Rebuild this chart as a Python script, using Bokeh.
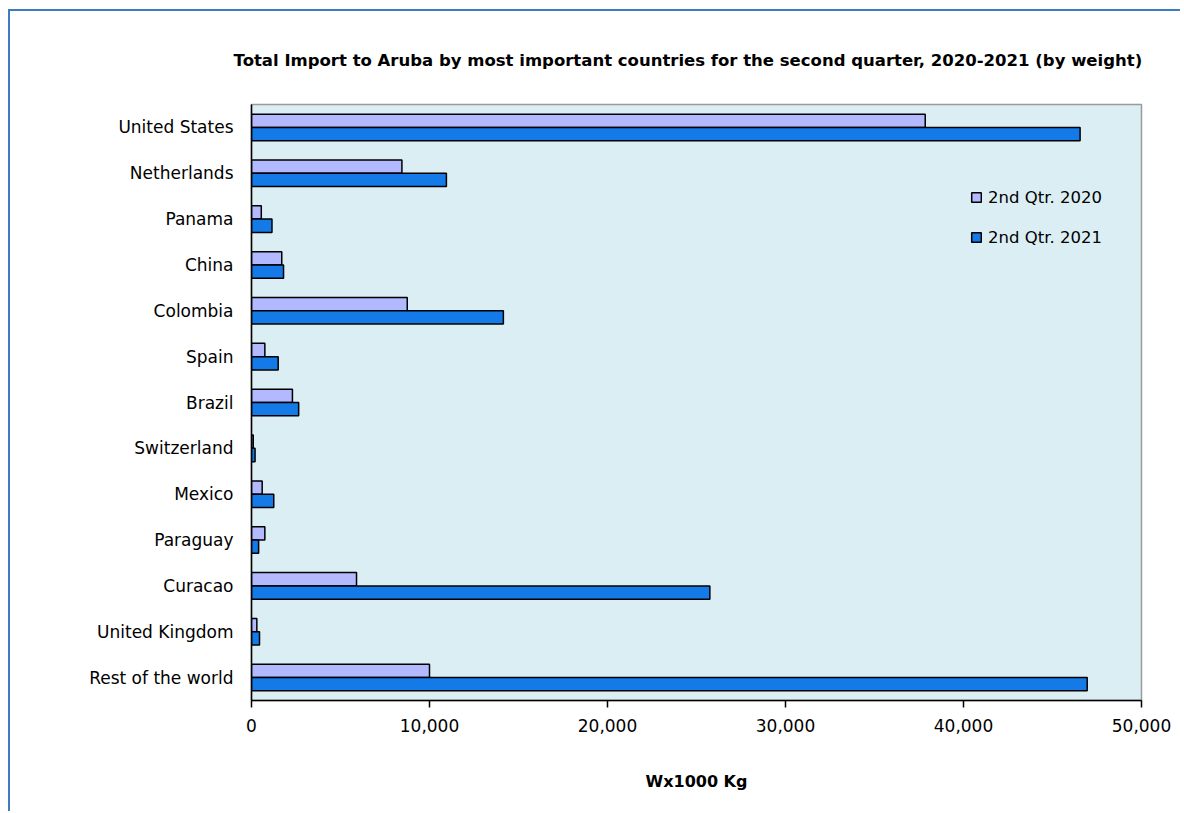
from bokeh.plotting import figure
from bokeh.models import FactorRange, Range1d, NumeralTickFormatter, Legend, LegendItem, FixedTicker, ColumnDataSource
from bokeh.transform import dodge
from bokeh.embed import file_html
from bokeh.resources import INLINE

countries = ["United States", "Netherlands", "Panama", "China", "Colombia", "Spain", "Brazil",
             "Switzerland", "Mexico", "Paraguay", "Curacao", "United Kingdom", "Rest of the world"]
q2_2020 = [37850, 8450, 550, 1700, 8750, 750, 2300, 100, 600, 750, 5900, 300, 10000]
q2_2021 = [46550, 10950, 1150, 1800, 14150, 1500, 2650, 200, 1250, 400, 25750, 450, 46950]
series_names = ["2nd Qtr. 2020", "2nd Qtr. 2021"]
x_ticks = [0, 10000, 20000, 30000, 40000, 50000]

title_text = "Total Import to Aruba  by most important countries  for the second quarter,  2020-2021 (by weight)"
x_label = "Wx1000 Kg"

FONT = "DejaVu Sans"
C2020 = "#B3B9FF"
C2021 = "#137AE8"

source = ColumnDataSource(dict(country=countries, q2020=q2_2020, q2021=q2_2021))

p = figure(width=1172, height=802, output_backend="svg", toolbar_location=None,
           y_range=FactorRange(factors=list(reversed(countries)), range_padding=0),
           x_range=Range1d(0, 50000),
           min_border_left=241, min_border_right=41, min_border_top=93, min_border_bottom=113,
           title=title_text)

p.styles = {"margin-left": "8px", "margin-top": "9px",
            "border-left": "2px solid #3D7CC1", "border-top": "2px solid #3D7CC1"}
p.background_fill_color = "#DAEEF3"
p.border_fill_color = "white"
p.outline_line_color = "#9A9A9A"
p.outline_line_width = 1.5
p.xgrid.grid_line_color = None
p.ygrid.grid_line_color = None

p.title.align = "center"
p.title.offset = -4
p.title.standoff = 70
p.title.text_font = FONT
p.title.text_font_size = "16.5px"
p.title.text_font_style = "bold"
p.title.text_color = "black"

r1 = p.hbar(y=dodge("country", 0.145, range=p.y_range), right="q2020", left=0, height=0.29,
            source=source, fill_color=C2020, line_color="black", line_width=1.5)
r2 = p.hbar(y=dodge("country", -0.145, range=p.y_range), right="q2021", left=0, height=0.29,
            source=source, fill_color=C2021, line_color="black", line_width=1.5)

legend = Legend(items=[LegendItem(label=series_names[0], renderers=[r1]),
                       LegendItem(label=series_names[1], renderers=[r2])],
                location=(719, 453), orientation="vertical")
legend.background_fill_alpha = 0
legend.border_line_color = None
legend.padding = 0
legend.margin = 0
legend.spacing = 20
legend.glyph_width = 12
legend.glyph_height = 12
legend.label_height = 20
legend.label_standoff = 6
legend.label_text_font = FONT
legend.label_text_font_size = "16.5px"
legend.label_text_color = "black"
p.add_layout(legend, "center")

xa = p.xaxis[0]
xa.ticker = FixedTicker(ticks=x_ticks)
xa.formatter = NumeralTickFormatter(format="0,0")
xa.axis_line_color = "black"
xa.axis_line_width = 1.5
xa.major_tick_line_color = "black"
xa.major_tick_line_width = 1.5
xa.major_tick_out = 7
xa.major_tick_in = 0
xa.minor_tick_line_color = None
xa.major_label_standoff = 11
xa.major_label_text_font = FONT
xa.major_label_text_font_size = "17px"
xa.major_label_text_color = "black"
xa.axis_label = x_label
xa.axis_label_text_font = FONT
xa.axis_label_text_font_size = "16px"
xa.axis_label_text_font_style = "bold"
xa.axis_label_text_color = "black"
xa.axis_label_standoff = 37

ya = p.yaxis[0]
ya.axis_line_color = "black"
ya.axis_line_width = 1.5
ya.major_tick_line_color = None
ya.major_tick_out = 0
ya.major_tick_in = 0
ya.minor_tick_line_color = None
ya.major_label_standoff = 18
ya.major_label_text_font = FONT
ya.major_label_text_font_size = "17px"
ya.major_label_text_color = "black"

open("out.html", "w").write(file_html(p, INLINE))
